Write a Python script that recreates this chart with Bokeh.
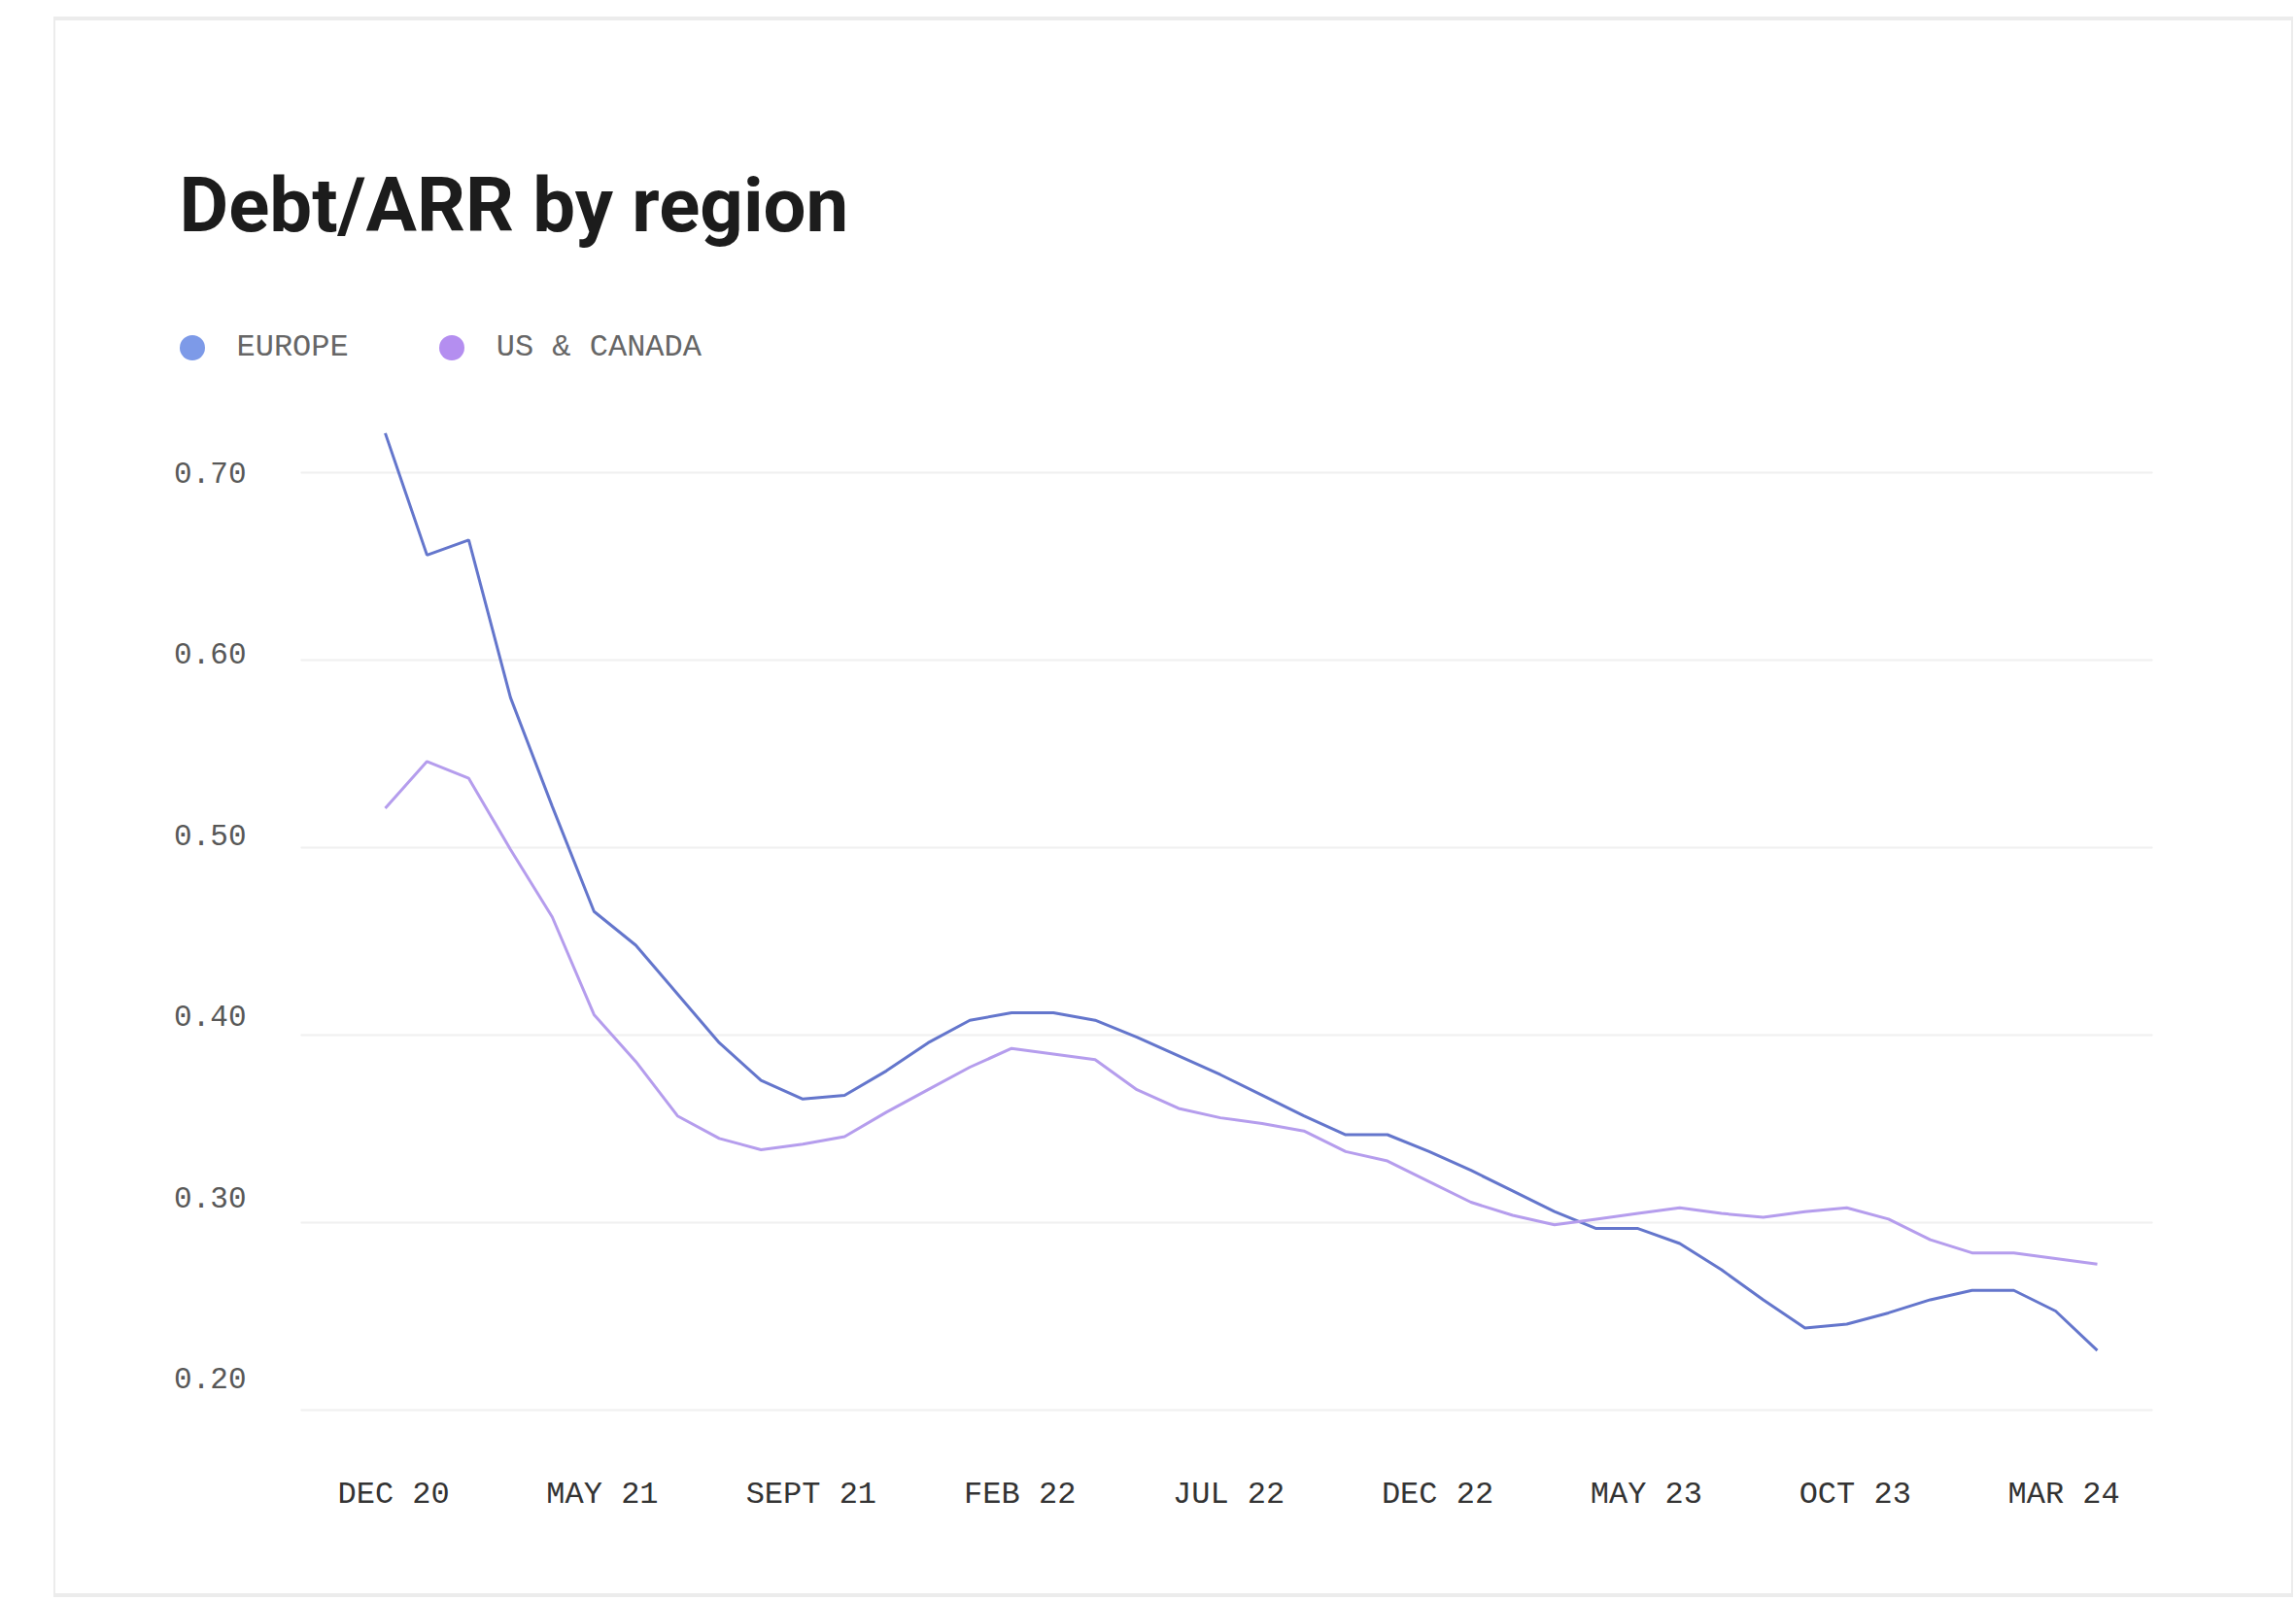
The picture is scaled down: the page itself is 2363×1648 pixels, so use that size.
from bokeh.plotting import figure
from bokeh.models import (Range1d, LinearAxis, FixedTicker, PrintfTickFormatter,
                          Label, Legend, LegendItem, Grid)
from bokeh.embed import file_html
from bokeh.resources import INLINE

# ---- data -------------------------------------------------------------
period = list(range(42))

europe = [0.721, 0.656, 0.664, 0.580, 0.522, 0.466, 0.448, 0.422, 0.396, 0.376,
          0.366, 0.368, 0.381, 0.396, 0.408, 0.412, 0.412, 0.408, 0.399, 0.389,
          0.379, 0.368, 0.357, 0.347, 0.347, 0.338, 0.328, 0.317, 0.306, 0.297,
          0.297, 0.289, 0.275, 0.259, 0.244, 0.246, 0.252, 0.259, 0.264, 0.264,
          0.253, 0.232]

us_canada = [0.521, 0.546, 0.537, 0.499, 0.463, 0.411, 0.386, 0.357, 0.345, 0.339,
             0.342, 0.346, 0.359, 0.371, 0.383, 0.393, 0.390, 0.387, 0.371, 0.361,
             0.356, 0.353, 0.349, 0.338, 0.333, 0.322, 0.311, 0.304, 0.299, 0.302,
             0.305, 0.308, 0.305, 0.303, 0.306, 0.308, 0.302, 0.291, 0.284, 0.284,
             0.281, 0.278]

series_names = ["EUROPE", "US & CANADA"]
x_tick_labels = ["DEC 20", "MAY 21", "SEPT 21", "FEB 22", "JUL 22",
                 "DEC 22", "MAY 23", "OCT 23", "MAR 24"]
x_tick_pos = [0.2, 5.2, 10.2, 15.2, 20.2, 25.2, 30.2, 35.2, 40.2]
y_ticks = [0.2, 0.3, 0.4, 0.5, 0.6, 0.7]

EUROPE_LINE = "#6476cc"
EUROPE_DOT = "#7d9ae8"
US_LINE = "#b59ded"
US_DOT = "#b48ef0"
MONO = "Liberation Mono"
CARD_EDGE = "#ececec"

CARD_W = 2301
HEAD_H = 389
CHART_H = 1230

# ---- header card part: title + legend ---------------------------------
head = figure(width=CARD_W, height=HEAD_H, output_backend="svg", toolbar_location=None,
              x_range=Range1d(0, CARD_W), y_range=Range1d(HEAD_H, 0),
              x_axis_location=None, y_axis_location=None, min_border=0,
              background_fill_color="white", border_fill_color="white",
              margin=(21, 0, 0, 57))
head.outline_line_color = None
head.grid.visible = False
head.styles = {"box-shadow": f"0 -2px 0 2px {CARD_EDGE}"}

head.add_layout(Label(x=127, y=190, text="Debt/ARR by region", text_font="Roboto",
                      text_font_style="bold", text_font_size="78px",
                      text_color="#1c1c1c", text_baseline="alphabetic"))

# legend swatches: zero-size markers that carry the series colours
eu_dot = head.scatter(period, europe, size=0, marker="circle",
                      fill_color=EUROPE_DOT, line_color=None)
us_dot = head.scatter(period, us_canada, size=0, marker="circle",
                      fill_color=US_DOT, line_color=None)
legend = Legend(items=[LegendItem(label=series_names[0], renderers=[eu_dot]),
                       LegendItem(label=series_names[1], renderers=[us_dot])],
                orientation="horizontal", location=(107.5, 20.5),
                glyph_width=65, glyph_height=65, label_standoff=14, spacing=73,
                padding=0, margin=0, border_line_color=None, background_fill_alpha=0,
                label_text_font=MONO, label_text_font_size="32px",
                label_text_color="#666666")
head.add_layout(legend, "center")

# ---- chart card part --------------------------------------------------
p = figure(width=CARD_W, height=CHART_H, output_backend="svg", toolbar_location=None,
           x_range=Range1d(-2.024, 42.326), y_range=Range1d(0.195, 0.73),
           y_axis_location=None, min_border_left=252, min_border_right=143,
           min_border_top=18, min_border_bottom=179,
           background_fill_color="white", border_fill_color="white",
           margin=(0, 0, 0, 57))
p.outline_line_color = None
p.xgrid.visible = False
p.styles = {"box-shadow": f"0 2px 0 2px {CARD_EDGE}"}

# horizontal gridlines
p.add_layout(Grid(dimension=1, ticker=FixedTicker(ticks=y_ticks),
                  grid_line_color="#f0f0f0", grid_line_width=2))

# value labels on the left sit on their own slightly tighter scale
p.extra_y_ranges = {"labels": Range1d(0.1769, 0.7311)}
yax = LinearAxis(y_range_name="labels", ticker=FixedTicker(ticks=y_ticks),
                 formatter=PrintfTickFormatter(format="%.2f"))
yax.axis_line_color = None
yax.major_tick_line_color = None
yax.minor_tick_line_color = None
yax.major_label_standoff = 50
yax.major_label_text_font = MONO
yax.major_label_text_font_size = "31px"
yax.major_label_text_color = "#585858"
p.add_layout(yax, "left")

xax = p.xaxis[0]
xax.ticker = FixedTicker(ticks=x_tick_pos)
xax.major_label_overrides = {pos: lab for pos, lab in zip(x_tick_pos, x_tick_labels)}
xax.axis_line_color = None
xax.major_tick_line_color = None
xax.minor_tick_line_color = None
xax.major_label_standoff = 52
xax.major_label_text_font = MONO
xax.major_label_text_font_size = "32px"
xax.major_label_text_color = "#333333"

p.line(period, europe, line_color=EUROPE_LINE, line_width=3)
p.line(period, us_canada, line_color=US_LINE, line_width=3)

open("out.html", "w").write(file_html([head, p], INLINE))
